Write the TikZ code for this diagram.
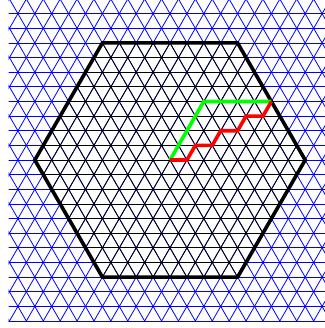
\documentclass[tikz,border=0pt]{standalone}
\begin{document}
\begin{tikzpicture}[x=16.9pt,y=16.9pt,
  gridline/.style={line width=0.8pt},
  hexline/.style={line width=3.6pt,black,line join=miter},
  pathline/.style={line width=3.6pt,line join=miter}]
\def\h{0.8660254}
\useasboundingbox (-10.06,-9.94) rectangle (9.17,9.47);
\def\lattice{%
  \foreach \k in {-11,...,11} {\draw[gridline] (-12,\k*\h) -- (12,\k*\h);}
  \foreach \i in {-24,...,24} {
    \draw[gridline] (\i-6,-12*\h) -- (\i+6,12*\h);
    \draw[gridline] (\i+6,-12*\h) -- (\i-6,12*\h);
  }}
\begin{scope}
  \clip (-9.55,-9.55) rectangle (9.3,9.55);
  \begin{scope}[blue]
    \lattice
  \end{scope}
\end{scope}
\begin{scope}
  \clip (8,0) -- (4,8*\h) -- (-4,8*\h) -- (-8,0) -- (-4,-8*\h) -- (4,-8*\h) -- cycle;
  \begin{scope}[black]
    \lattice
  \end{scope}
\end{scope}
\draw[hexline] (8,0) -- (4,8*\h) -- (-4,8*\h) -- (-8,0) -- (-4,-8*\h) -- (4,-8*\h) -- cycle;
\coordinate (start) at (0,0);
\coordinate (corner) at (2,4*\h);
\coordinate (finish) at (6,4*\h);
\draw[pathline,green] (start) -- (corner) -- (finish);
\draw[pathline,red] (start) -- (1,0) -- (1.5,\h) -- (2.5,\h) -- (3,2*\h) -- (4,2*\h) -- (4.5,3*\h) -- (5.5,3*\h) -- (finish);
\end{tikzpicture}
\end{document}
